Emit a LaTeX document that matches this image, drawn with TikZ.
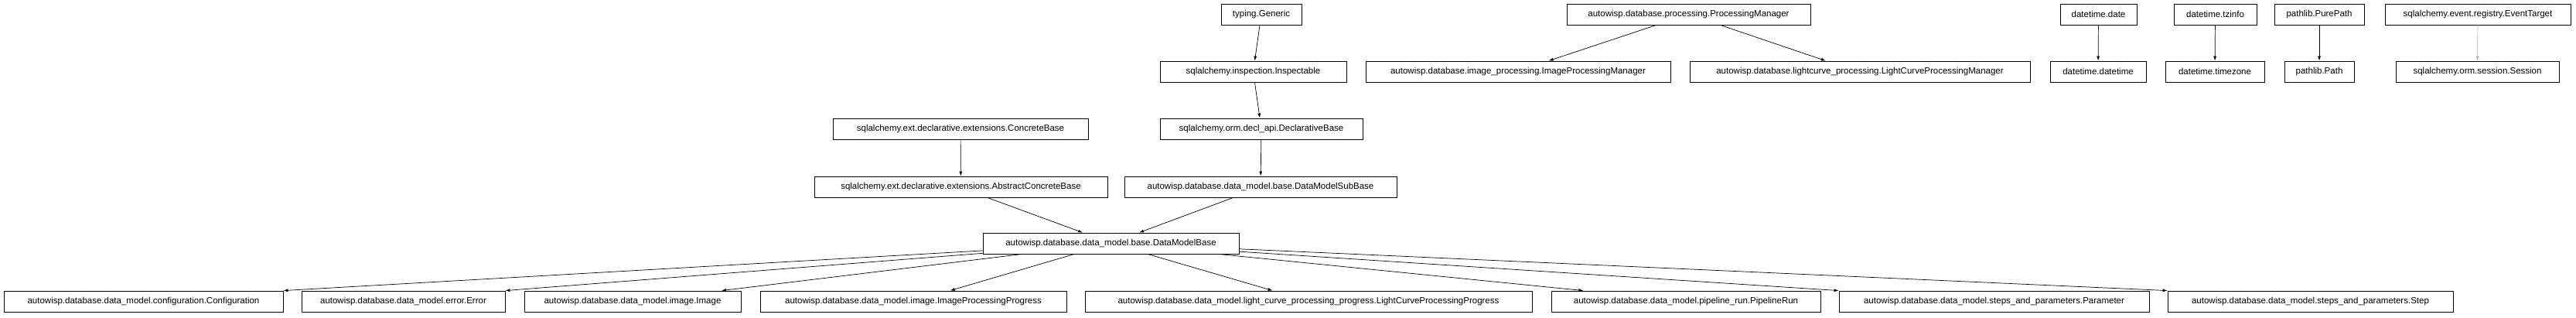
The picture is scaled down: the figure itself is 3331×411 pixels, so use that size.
\documentclass[tikz,border=0pt]{standalone}
\usepackage{fontspec}
\setmainfont{Liberation Sans}
\usetikzlibrary{arrows.meta, calc}

\begin{document}
\begin{tikzpicture}[
    x=1pt, y=-1pt,
    cls/.style={rectangle, draw, line width=0.8pt, minimum height=27pt, inner sep=0pt, font=\fontsize{11.5}{13}\selectfont},
    inh/.style={-{Latex[length=6pt,width=4pt]}, line width=0.7pt}
]
    \useasboundingbox (0,0) rectangle (3331,411);
    % top rows
    \node[cls, minimum width=104pt] (generic) at (1631,18.5) {typing.Generic};
    \node[cls, minimum width=241pt] (inspectable) at (1620.5,92.5) {sqlalchemy.inspection.Inspectable};
    \node[cls, minimum width=262pt] (declbase) at (1631,166.5) {sqlalchemy.orm.decl\_api.DeclarativeBase};
    \node[cls, minimum width=330pt] (concrete) at (1242,166.5) {sqlalchemy.ext.declarative.extensions.ConcreteBase};
    \node[cls, minimum width=379pt] (abstractconcrete) at (1242.5,241.5) {sqlalchemy.ext.declarative.extensions.AbstractConcreteBase};
    \node[cls, minimum width=352pt] (subbase) at (1630,241.5) {autowisp.database.data\_model.base.DataModelSubBase};
    \node[cls, minimum width=331pt] (base) at (1436.5,314.5) {autowisp.database.data\_model.base.DataModelBase};

    \node[cls, minimum width=315pt] (procmgr) at (2183.5,18.5) {autowisp.database.processing.ProcessingManager};
    \node[cls, minimum width=394pt] (imgmgr) at (1963,92.5) {autowisp.database.image\_processing.ImageProcessingManager};
    \node[cls, minimum width=440pt] (lcmgr) at (2405,92.5) {autowisp.database.lightcurve\_processing.LightCurveProcessingManager};

    \node[cls, minimum width=99pt] (date) at (2713.5,18.5) {datetime.date};
    \node[cls, minimum width=124pt] (datetime) at (2713,92.5) {datetime.datetime};
    \node[cls, minimum width=107pt] (tzinfo) at (2864.5,18.5) {datetime.tzinfo};
    \node[cls, minimum width=128pt] (timezone) at (2864,92.5) {datetime.timezone};
    \node[cls, minimum width=116pt] (purepath) at (2999,18.5) {pathlib.PurePath};
    \node[cls, minimum width=90pt] (path) at (2999,92.5) {pathlib.Path};
    \node[cls, minimum width=240pt] (eventtarget) at (3204,18.5) {sqlalchemy.event.registry.EventTarget};
    \node[cls, minimum width=211pt] (session) at (3203.5,92.5) {sqlalchemy.orm.session.Session};

    % bottom row
    \node[cls, minimum width=361pt] (configuration) at (185.5,389.5) {autowisp.database.data\_model.configuration.Configuration};
    \node[cls, minimum width=263pt] (error) at (521.5,389.5) {autowisp.database.data\_model.error.Error};
    \node[cls, minimum width=280pt] (image) at (818,389.5) {autowisp.database.data\_model.image.Image};
    \node[cls, minimum width=396pt] (imgprogress) at (1181,389.5) {autowisp.database.data\_model.image.ImageProcessingProgress};
    \node[cls, minimum width=578pt] (lcprogress) at (1692,389.5) {autowisp.database.data\_model.light\_curve\_processing\_progress.LightCurveProcessingProgress};
    \node[cls, minimum width=348pt] (pipelinerun) at (2180,389.5) {autowisp.database.data\_model.pipeline\_run.PipelineRun};
    \node[cls, minimum width=401pt] (parameter) at (2578.5,389.5) {autowisp.database.data\_model.steps\_and\_parameters.Parameter};
    \node[cls, minimum width=369pt] (step) at (2987.5,389.5) {autowisp.database.data\_model.steps\_and\_parameters.Step};

    % inheritance
    \draw[inh] (generic) -- (inspectable);
    \draw[inh] (inspectable) -- (declbase);
    \draw[inh] (declbase) -- (subbase);
    \draw[inh] (concrete) -- (abstractconcrete);
    \draw[inh] ($(abstractconcrete.south west)!0.59!(abstractconcrete.south east)$) -- ($(base.north west)!0.39!(base.north east)$);
    \draw[inh] ($(subbase.south west)!0.4!(subbase.south east)$) -- ($(base.north west)!0.61!(base.north east)$);
    \draw[inh] (procmgr) -- ($(imgmgr.north west)!0.6!(imgmgr.north east)$);
    \draw[inh] (procmgr) -- ($(lcmgr.north west)!0.4!(lcmgr.north east)$);
    \draw[inh] (date) -- (datetime);
    \draw[inh] (tzinfo) -- (timezone);
    \draw[inh] (purepath) -- (path);
    \draw[inh, gray!60] (eventtarget) -- (session);

    \draw[inh] (base) -- (configuration.north east);
    \draw[inh] (base) -- (error.north east);
    \draw[inh] (base) -- ($(image.north west)!0.91!(image.north east)$);
    \draw[inh] (base) -- ($(imgprogress.north west)!0.62!(imgprogress.north east)$);
    \draw[inh] (base) -- ($(lcprogress.north west)!0.42!(lcprogress.north east)$);
    \draw[inh] (base) -- ($(pipelinerun.north west)!0.12!(pipelinerun.north east)$);
    \draw[inh] (base) -- (parameter.north west);
    \draw[inh] (base) -- (step.north west);
\end{tikzpicture}
\end{document}
